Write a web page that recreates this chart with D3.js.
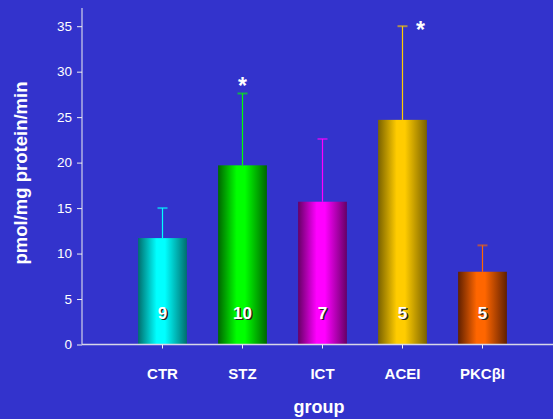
<!DOCTYPE html>
<html>
<head>
<meta charset="utf-8">
<script src="https://cdn.jsdelivr.net/npm/d3@7"></script>
<style>
  html, body { margin: 0; padding: 0; background: #3333cc; }
  svg { display: block; }
  text { font-family: "Liberation Sans", Arial, sans-serif; }
</style>
</head>
<body>
<script>
// Enzyme activity by treatment group (mean + SD, n inside bars)
const groups   = ["CTR", "STZ", "ICT", "ACEI", "PKC\u03B2I"];
const means    = [11.7, 19.7, 15.7, 24.7, 8.0];
const sds      = [3.3, 7.9, 6.9, 10.3, 2.9];
const nCounts  = [9, 10, 7, 5, 5];
const signif   = [false, true, false, true, false];
const yTicks   = [0, 5, 10, 15, 20, 25, 30, 35];
const brightColors = ["#00ffff", "#00ff00", "#ff00ff", "#ffcc00", "#ff6600"];
const darkColors   = ["#006e6e", "#006600", "#660066", "#7a6200", "#602000"];

const W = 553, H = 419;
const margin = { left: 82, top: 8, right: 0, bottom: 75 };

const svg = d3.select("body").append("svg")
  .attr("width", W).attr("height", H);

svg.append("rect").attr("width", W).attr("height", H).attr("fill", "#3333cc");

const y = d3.scaleLinear().domain([0, 37]).range([344.5, 8]);
const x = d3.scaleBand().domain(groups).range([122.5, 522.5]).paddingInner(0.39).paddingOuter(0.195);

// cylinder-like horizontal gradients for each bar
const defs = svg.append("defs");
groups.forEach((g, i) => {
  const grad = defs.append("linearGradient")
    .attr("id", "grad" + i).attr("x1", "0%").attr("x2", "100%").attr("y1", "0%").attr("y2", "0%");
  grad.append("stop").attr("offset", "0%").attr("stop-color", darkColors[i]);
  grad.append("stop").attr("offset", "38%").attr("stop-color", brightColors[i]);
  grad.append("stop").attr("offset", "55%").attr("stop-color", brightColors[i]);
  grad.append("stop").attr("offset", "100%").attr("stop-color", darkColors[i]);
});

const bw = x.bandwidth();

// error bars (upper only)
const err = svg.append("g");
groups.forEach((g, i) => {
  const cx = x(g) + bw / 2;
  err.append("line")
    .attr("x1", cx).attr("x2", cx)
    .attr("y1", y(means[i])).attr("y2", y(means[i] + sds[i]))
    .attr("stroke", brightColors[i]).attr("stroke-width", 1.2);
  err.append("line")
    .attr("x1", cx - 5).attr("x2", cx + 5)
    .attr("y1", y(means[i] + sds[i])).attr("y2", y(means[i] + sds[i]))
    .attr("stroke", brightColors[i]).attr("stroke-opacity", 0.6).attr("stroke-width", 2);
});

// bars
svg.append("g").selectAll("rect").data(groups).join("rect")
  .attr("x", d => x(d))
  .attr("y", (d, i) => y(means[i]))
  .attr("width", bw)
  .attr("height", (d, i) => y(0) - y(means[i]))
  .attr("fill", (d, i) => `url(#grad${i})`);

// y axis
const yAxis = svg.append("g").attr("transform", `translate(${margin.left},0)`)
  .call(d3.axisLeft(y).tickValues(yTicks).tickSize(5).tickPadding(5));
yAxis.select(".domain").attr("d", `M0,${y(0)}V8`).attr("stroke", "#f0f0f0");
yAxis.selectAll(".tick line").attr("stroke", "#f0f0f0");
yAxis.selectAll(".tick text").attr("fill", "#ffffff").attr("font-size", 13.5)
  .style("font-family", "Liberation Sans, Arial, sans-serif");

// x axis
const xAxis = svg.append("g").attr("transform", `translate(0,${y(0)})`)
  .call(d3.axisBottom(x).tickSize(4).tickPadding(20));
xAxis.select(".domain").attr("d", `M${margin.left},0H${W}`).attr("stroke", "#d8d8e8").attr("stroke-width", 1.5);
xAxis.selectAll(".tick line").attr("stroke", "#f0f0f0");
xAxis.selectAll(".tick text").attr("fill", "#ffffff").attr("font-size", 15)
  .attr("font-weight", "bold")
  .style("font-family", "Liberation Sans, Arial, sans-serif");

// n counts inside bars, with a dark drop shadow
const nLabels = svg.append("g");
groups.forEach((g, i) => {
  const cx = x(g) + bw / 2;
  nLabels.append("text").attr("x", cx + 1.5).attr("y", 320)
    .attr("text-anchor", "middle").attr("font-size", 17).attr("font-weight", "bold")
    .attr("fill", "#222222").text(nCounts[i]);
  nLabels.append("text").attr("x", cx).attr("y", 318.5)
    .attr("text-anchor", "middle").attr("font-size", 17).attr("font-weight", "bold")
    .attr("fill", "#ffffff").text(nCounts[i]);
});

// significance markers
const starOffsets = [0, 0, 0, 18, 0];
groups.forEach((g, i) => {
  if (!signif[i]) return;
  const cx = x(g) + bw / 2 + starOffsets[i];
  const top = y(means[i] + sds[i]);
  svg.append("text")
    .attr("x", cx).attr("y", starOffsets[i] ? top + 12 : top + 0.5)
    .attr("text-anchor", "middle").attr("font-size", 23).attr("font-weight", "bold")
    .attr("fill", "#ffffff").text("*");
});

// axis titles
svg.append("text").attr("x", 319).attr("y", 413)
  .attr("text-anchor", "middle").attr("font-size", 18).attr("font-weight", "bold")
  .attr("fill", "#ffffff").text("group");

svg.append("text")
  .attr("transform", "translate(27,173) rotate(-90)")
  .attr("text-anchor", "middle").attr("font-size", 18.5).attr("font-weight", "bold")
  .attr("fill", "#ffffff").text("pmol/mg protein/min");
</script>
</body>
</html>
